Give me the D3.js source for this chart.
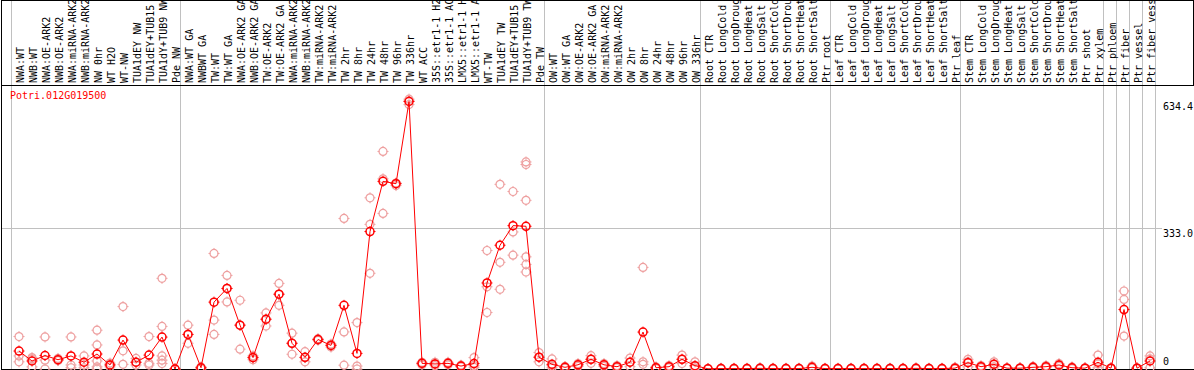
<!DOCTYPE html>
<html>
<head>
<meta charset="utf-8">
<script src="https://cdnjs.cloudflare.com/ajax/libs/d3/7.8.5/d3.min.js"></script>
<style>
body { margin:0; background:#fff; }
text { font-family:'DejaVu Sans Mono', monospace; font-size:10px; }
</style>
</head>
<body>
<svg id="viewer"></svg>
<script>
var geneName = 'Potri.012G019500';

var labels = [
  'NWA:WT','NWB:WT','NWA:OE-ARK2','NWB:OE-ARK2','NWA:miRNA-ARK2','NWB:miRNA-ARK2','NW 0hr','WT H2O','WT-NW',
  'TUA1dEY NW','TUA1dEY+TUB15 NW','TUA1dY+TUB9 NW','Pde NW',
  'NWA:WT GA','NWBWT GA','TW:WT','TW:WT GA','NWA:OE-ARK2 GA','NWB:OE-ARK2 GA','TW:OE-ARK2','TW:OE-ARK2 GA',
  'NWA:miRNA-ARK2 GA','NWB:miRNA-ARK2 GA','TW:miRNA-ARK2','TW:miRNA-ARK2 GA','TW 2hr','TW 8hr','TW 24hr','TW 48hr',
  'TW 96hr','TW 336hr','WT ACC','35S::etr1-1 H2O','35S::etr1-1 ACC','LMX5::etr1-1 H2O','LMX5::etr1-1 ACC','WT-TW',
  'TUA1dEY TW','TUA1dEY+TUB15 TW','TUA1dY+TUB9 TW','Pde TW',
  'OW:WT','OW:WT GA','OW:OE-ARK2','OW:OE-ARK2 GA','OW:miRNA-ARK2','OW:miRNA-ARK2 GA','OW 2hr','OW 8hr','OW 24hr',
  'OW 48hr','OW 96hr','OW 336hr',
  'Root CTR','Root LongCold','Root LongDrought','Root LongHeat','Root LongSalt','Root ShortCold','Root ShortDrought',
  'Root ShortHeat','Root ShortSalt','Ptr root',
  'Leaf CTR','Leaf LongCold','Leaf LongDrought','Leaf LongHeat','Leaf LongSalt','Leaf ShortCold','Leaf ShortDrought',
  'Leaf ShortHeat','Leaf ShortSalt','Ptr leaf',
  'Stem CTR','Stem LongCold','Stem LongDrought','Stem LongHeat','Stem LongSalt','Stem ShortCold','Stem ShortDrought',
  'Stem ShortHeat','Stem ShortSalt','Ptr shoot','Ptr xylem',
  'Ptr phloem','Ptr fiber','Ptr vessel','Ptr fiber vessel'
];

var means = [
  42.6,19,32,22,31,16,35.5,9.5,68.6,16,33,75.7,0,
  82,3,158.6,191,104,27,118,177.5,61,27.6,70,56,151,37,326,445,439.5,634.4,13.4,12,13.4,7,13,204,293.5,340,338.5,28,
  11,4,10,23,10,5.5,16,87.6,3,5.5,23,8,
  0.5,1,1,1,1.5,1,1,1,4,1,
  1,1,1,1,1,1,1.5,1,1,2,
  15,5.5,11,2,2,4,5.5,9.5,3,2,16,
  2,141,2,19
];

var reps = [
  [77,31,17],[27,24,5],[76,21,0],[25,21,20],[76,9.5,3],[31,9.5,3],[92,57,19,5,0],[14,10,5],[148,43,11],
  [25,16,9.5],[77,13.4,9.5],[215,101,31,21,13],[0,0,0],
  [104,82,61],[5,3,0],[274,116,82],[222,191,159],[163,104,47],[31,27,22],[133,118,102],[203,177,151],
  [85,61,35],[41,27,17],[72,70,68],[59,56,52],[357,88,9],[110,7,0],[406,343,227],[516,451,369],
  [441,440,435],[640,636,627],[16,13,10],[16,12,8],[16,13,10],[9,7,5],[27,8,4],[281,195,134],
  [438,253,189],[421,325,270],[491,485,400,266,248,230],[39,28,17],
  [24,8,3],[6,4,2],[13,10,6],[31.5,23,13.4],[13,10,6],[8,5.5,3],[26,16,5.5],[241,17,11],[5,3,1],
  [8,5.5,3],[33,23,13],[17,6,2],
  [1,0.5,0],[2,1,0],[2,1,0],[2,1,0],[3,1,0],[2,1,0],[2,1,0],[2,1,0],[7,3,2],[2,1,0],
  [2,1,0],[2,1,0],[2,1,0],[2,1,0],[2,1,0],[2,1,0],[3,1,0],[2,1,0],[2,1,0],[4,2,0],
  [23,17,5],[8,5,3],[17,11,5],[3,2,1],[3,2,1],[6,4,2],[8,5,3],[13,9,6],[5,3,1],[3,2,1],[33,12,3],
  [3,2,1],[185,165,78],[3,2,1],[31,24,3]
];

var groupStarts = [0,13,41,53,63,73,84,85,86,87,88];
var yTicks = [0, 333.0, 634.4];
var yMax = 634.4;

var width = 1194, height = 370;
var headerBottom = 85, plotBottom = 369;

var viewer = d3.select('#viewer')
  .attr('width',width)
  .attr('height',height);

var x = d3.scaleLinear().domain([0,labels.length]).range([11, 11+labels.length*13]);
var y = d3.scaleLinear().domain([0,yMax]).range([plotBottom,101.5]);

function px(i){ return x(i)+8; }

// grey group separators, full height
viewer.selectAll('.sep')
  .data(groupStarts)
  .enter().append('line')
    .attr('class','sep')
    .attr('x1',function(k){return Math.round(x(k))+0.5;})
    .attr('x2',function(k){return Math.round(x(k))+0.5;})
    .attr('y1',0)
    .attr('y2',plotBottom)
    .attr('stroke','#c0c0c0');

// horizontal grid at the middle tick
viewer.selectAll('.hgrid')
  .data(yTicks.filter(function(v){return v>0 && v<yMax;}))
  .enter().append('line')
    .attr('x1',1).attr('x2',1162)
    .attr('y1',function(v){return Math.floor(y(v))+0.5;})
    .attr('y2',function(v){return Math.floor(y(v))+0.5;})
    .attr('stroke','#c0c0c0');

// frame
var frame = [
  [1,0.5,width,0.5],
  [1,headerBottom+0.5,width,headerBottom+0.5],
  [1,plotBottom+0.5,width,plotBottom+0.5],
  [1.5,0,1.5,height],
  [width-0.5,0,width-0.5,headerBottom]
];
viewer.selectAll('.frame')
  .data(frame)
  .enter().append('line')
    .attr('x1',function(d){return d[0];})
    .attr('y1',function(d){return d[1];})
    .attr('x2',function(d){return d[2];})
    .attr('y2',function(d){return d[3];})
    .attr('stroke','#000');

// rotated column labels
viewer.selectAll('.collabel')
  .data(labels)
  .enter().append('text')
    .attr('class','collabel')
    .attr('transform',function(d,i){return 'translate('+(x(i)+13)+','+(headerBottom-2)+') rotate(-90)';})
    .attr('fill','#000')
    .text(function(d){return d;});

// value labels on the right
viewer.selectAll('.ylabel')
  .data(yTicks)
  .enter().append('text')
    .attr('x',1163)
    .attr('y',function(v){return Math.min(y(v)+8.5,365);})
    .attr('fill','#000')
    .text(function(v){return v==0 ? '0' : v.toFixed(1);});

viewer.append('text')
  .attr('x',10)
  .attr('y',99)
  .attr('fill','#f00')
  .text(geneName);

function marker(sel, color, sw){
  sel.append('circle')
    .attr('r',4)
    .attr('fill','none')
    .attr('stroke',color)
    .attr('stroke-width',sw);
  sel.append('path')
    .attr('d','M0,-5.5V-3.5M0,3.5V5.5M-5.5,0H-3.5M3.5,0H5.5')
    .attr('stroke',color)
    .attr('stroke-width',1);
}

// replicate points
var repPoints = [];
reps.forEach(function(list, i){
  list.forEach(function(v){ repPoints.push({i:i, v:v}); });
});
viewer.selectAll('.rep')
  .data(repPoints)
  .enter().append('g')
    .attr('class','rep')
    .attr('transform',function(d){return 'translate('+px(d.i)+','+y(d.v)+')';})
    .call(marker,'#eea0a0',1.2);

// mean line
var line = d3.line()
  .x(function(d,i){return px(i);})
  .y(function(d){return y(d);});
viewer.append('path')
  .datum(means)
  .attr('d',line)
  .attr('fill','none')
  .attr('stroke','#f00')
  .attr('stroke-width',1);

viewer.selectAll('.mean')
  .data(means)
  .enter().append('g')
    .attr('class','mean')
    .attr('transform',function(d,i){return 'translate('+px(i)+','+y(d)+')';})
    .call(marker,'#f00',1.5);
</script>
</body>
</html>
